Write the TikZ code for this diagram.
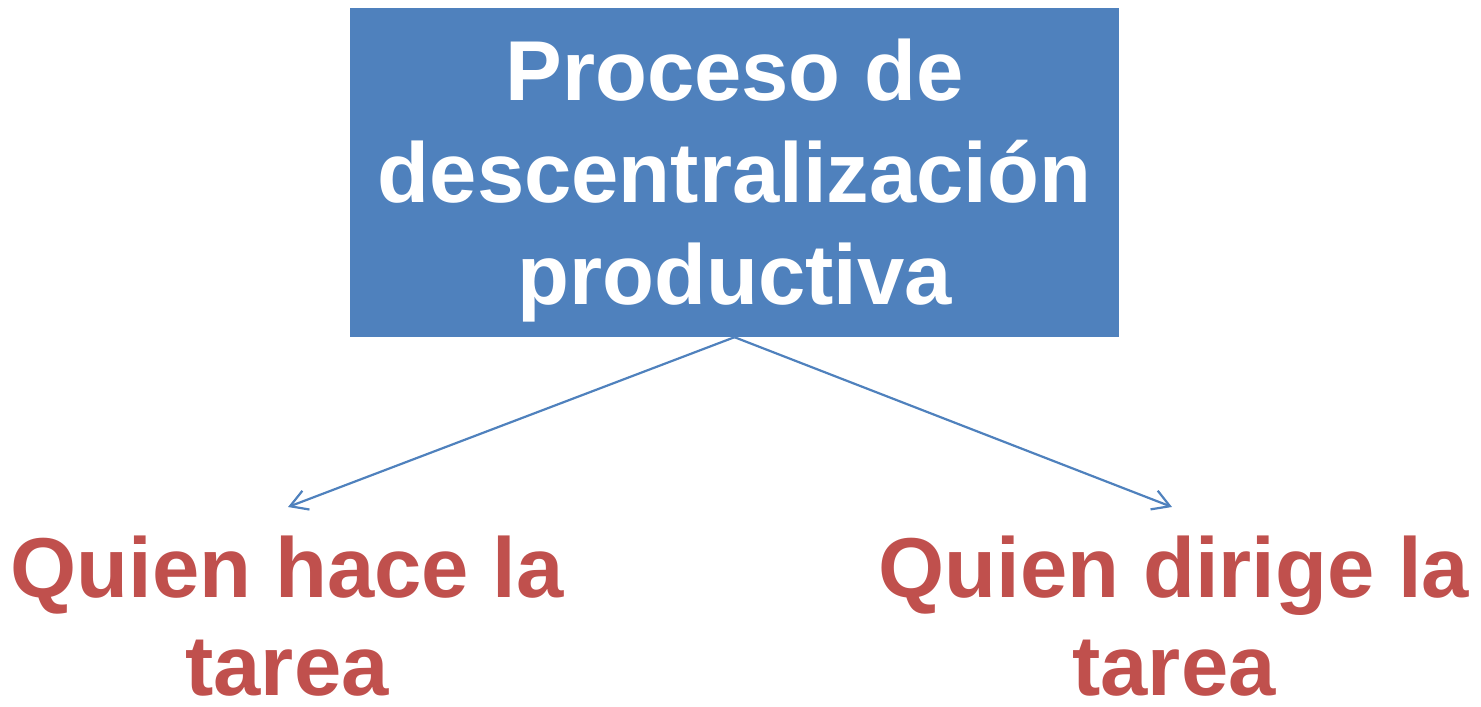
\documentclass[tikz,border=0pt]{standalone}
\usepackage{fontspec}
\setmainfont{Liberation Sans}
\usepackage{tikz}
\usetikzlibrary{arrows.meta}
\definecolor{boxblue}{HTML}{4F81BD}
\definecolor{taskred}{HTML}{C0504D}

\begin{document}
\begin{tikzpicture}[x=1pt, y=1pt,
    titlebox/.style={fill=boxblue, minimum width=769pt, minimum height=329pt, inner sep=0pt},
    titletext/.style={text=white, align=center, inner sep=0pt, font=\bfseries\fontsize{85}{102}\selectfont},
    tasktext/.style={text=taskred, align=center, inner sep=0pt, font=\bfseries\fontsize{85}{98}\selectfont},
    link/.style={draw=boxblue, line width=2.2pt, -{Straight Barb[length=17pt, width=20pt, line width=2.2pt]}}]
    \useasboundingbox (0,0) rectangle (1481,707);
    % Draw the main box with its text
    \node[titlebox] (proceso) at (734.5,534.5) {};
    \node[titletext] (procesotext) at ([yshift=-8]proceso.center) {Proceso de\\descentralización\\productiva};
    % Arrow ends
    \coordinate (hacetip) at (288,200);
    \coordinate (dirigetip) at (1172,200);
    % Draw the two answers
    \node[tasktext, anchor=north] (hace) at (287,171) {Quien hace la\\tarea};
    \node[tasktext, anchor=north] (dirige) at (1174,171) {Quien dirige la\\tarea};
    % Draw arrows
    \draw[link] (proceso.south) -- (hacetip);
    \draw[link] (proceso.south) -- (dirigetip);
\end{tikzpicture}
\end{document}
